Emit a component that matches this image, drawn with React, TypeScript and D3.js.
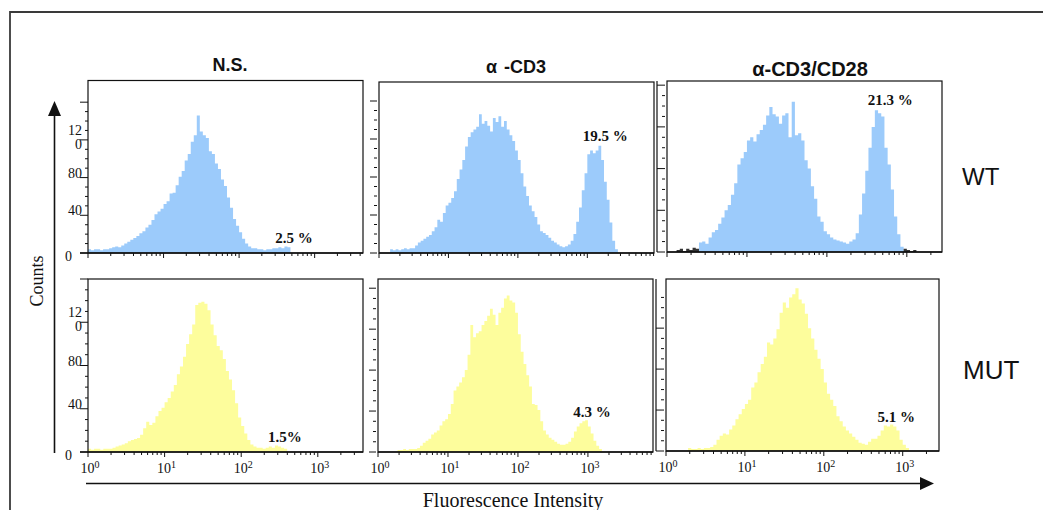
import * as d3 from 'd3';

// each histogram: counts per channel group of 0.04 log10 units, starting at *Start
const BIN = 0.04;

const wtNsStart = 0;
const wtNs = [4, 3, 4, 4, 3, 4, 4, 5, 6, 7, 6, 8, 10, 12, 14, 16, 18, 21, 23, 27, 30, 35, 41, 44, 47, 52, 55, 63, 64, 72, 81, 87, 98, 105, 118, 125, 146, 129, 125, 122, 108, 105, 95, 89, 78, 71, 59, 48, 36, 29, 22, 15, 10, 7, 5, 5, 4, 4, 3, 4, 4, 5, 5, 6, 5, 7, 6];

const wtCd3Start = 0.16;
const wtCd3 = [4, 3, 4, 3, 4, 5, 4, 5, 5, 8, 11, 13, 15, 17, 19, 23, 27, 35, 33, 42, 50, 53, 58, 65, 78, 88, 98, 112, 122, 127, 130, 133, 146, 136, 139, 134, 128, 142, 138, 144, 133, 139, 130, 124, 118, 108, 98, 84, 70, 60, 50, 44, 38, 30, 23, 21, 19, 16, 13, 11, 9, 7, 6, 7, 9, 13, 20, 33, 48, 66, 84, 104, 108, 105, 108, 113, 98, 75, 56, 32, 13, 4];

const wtCd28Start = 0.4;
const wtCd28 = [9, 10, 8, 14, 19, 21, 27, 33, 40, 45, 55, 66, 84, 90, 96, 107, 110, 106, 113, 117, 122, 131, 139, 132, 130, 123, 131, 133, 110, 144, 112, 114, 107, 88, 80, 63, 51, 34, 29, 20, 17, 14, 12, 11, 10, 9, 8, 10, 12, 18, 36, 56, 78, 100, 120, 136, 133, 130, 100, 84, 60, 34, 17, 5];
// dark debris events at both ends of the α-CD3/CD28 WT trace
const wtCd28DebrisLoStart = 0.12;
const wtCd28DebrisLo = [2, 3, 1, 3, 2, 4, 3];
const wtCd28DebrisHiStart = 2.96;
const wtCd28DebrisHi = [3, 2, 1, 2];

const mutNsStart = 0;
const mutNs = [3, 2, 3, 3, 2, 3, 3, 3, 4, 5, 6, 7, 8, 10, 11, 12, 13, 16, 22, 28, 25, 27, 33, 38, 41, 46, 50, 56, 62, 72, 79, 88, 100, 109, 118, 136, 138, 139, 137, 131, 118, 108, 98, 94, 86, 75, 67, 57, 45, 32, 24, 17, 11, 7, 5, 4, 4, 3, 4, 5, 4, 6, 5, 4, 3];

const mutCd3Start = 0.28;
const mutCd3 = [2, 2, 3, 2, 3, 3, 3, 4, 6, 9, 11, 13, 17, 19, 21, 26, 30, 32, 37, 47, 60, 64, 68, 73, 80, 95, 124, 112, 116, 118, 124, 128, 133, 140, 134, 124, 136, 141, 150, 153, 148, 146, 136, 115, 98, 86, 75, 64, 47, 46, 41, 30, 21, 17, 14, 12, 10, 8, 7, 7, 8, 10, 14, 20, 25, 28, 30, 31, 25, 18, 11, 6, 3];

const mutCd28Start = 0.28;
const mutCd28 = [3, 2, 2, 3, 2, 3, 3, 4, 6, 11, 15, 17, 16, 21, 25, 31, 36, 41, 46, 50, 62, 67, 77, 85, 92, 106, 104, 110, 119, 135, 145, 140, 150, 153, 159, 148, 144, 134, 120, 110, 99, 90, 80, 67, 56, 50, 44, 34, 29, 24, 20, 17, 14, 11, 8, 7, 6, 9, 12, 12, 15, 20, 25, 24, 26, 24, 20, 11, 6, 3];

const titles = ['N.S.', 'α', 'α-CD3/CD28'];
const rowLabels = ['WT', 'MUT'];
const pctLabels = ['2.5 %', '19.5 %', '21.3 %', '1.5%', '4.3 %', '5.1 %'];
const yTickLabels = [0, 40, 80, 120];
const xTickExponents = [0, 1, 2, 3];

const BLUE = '#9ccbfb';
const YELLOW = '#fdfd9c';
const SANS = '"Liberation Sans", Arial, sans-serif';
const SERIF = '"Liberation Serif", "Times New Roman", serif';

type Axis = 'left' | 'mid' | 'right';
interface Panel {
  counts: number[]; start: number; x: number; y: number; w: number; h: number;
  decades: number; yMax: number; tickMax: number; axis: Axis; color: string;
  pct: string; pctAt: [number, number]; xLabels: boolean;
}

const panels: Panel[] = [
  { counts: wtNs, start: wtNsStart, x: 88, y: 80.5, w: 275, h: 172.5, decades: 3.64, yMax: 183, tickMax: 160, axis: 'left', color: BLUE, pct: pctLabels[0], pctAt: [2.48, 10.6], xLabels: false },
  { counts: wtCd3, start: wtCd3Start, x: 379, y: 82, w: 275, h: 171, decades: 3.96, yMax: 180, tickMax: 160, axis: 'mid', color: BLUE, pct: pctLabels[1], pctAt: [2.935, 118], xLabels: false },
  { counts: wtCd28, start: wtCd28Start, x: 667, y: 81, w: 275, h: 171, decades: 3.44, yMax: 164, tickMax: 160, axis: 'right', color: BLUE, pct: pctLabels[2], pctAt: [2.51, 141], xLabels: false },
  { counts: mutNs, start: mutNsStart, x: 88, y: 279, w: 275, h: 173, decades: 3.59, yMax: 160, tickMax: 160, axis: 'left', color: YELLOW, pct: pctLabels[3], pctAt: [2.35, 9.2], xLabels: true },
  { counts: mutCd3, start: mutCd3Start, x: 378, y: 279, w: 275, h: 173, decades: 3.93, yMax: 169, tickMax: 160, axis: 'mid', color: YELLOW, pct: pctLabels[4], pctAt: [2.79, 33.9], xLabels: true },
  { counts: mutCd28, start: mutCd28Start, x: 666, y: 279, w: 273, h: 172, decades: 3.46, yMax: 168, tickMax: 150, axis: 'right', color: YELLOW, pct: pctLabels[5], pctAt: [2.68, 28.3], xLabels: true },
];

function stepPath(counts: number[], start: number, x: d3.ScaleLogarithmic<number, number>, y: d3.ScaleLinear<number, number>) {
  const pts: [number, number][] = counts.map((c, i) => [Math.pow(10, start + i * BIN), c]);
  pts.push([Math.pow(10, start + counts.length * BIN), counts[counts.length - 1]]);
  const area = d3.area<[number, number]>()
    .x(d => x(d[0]))
    .y0(y(0))
    .y1(d => y(d[1]))
    .curve(d3.curveStepAfter);
  return area(pts) || '';
}

function HistPanel({ p, debris }: { p: Panel; debris?: { start: number; counts: number[] }[] }) {
  const x = d3.scaleLog().domain([1, Math.pow(10, p.decades)]).range([p.x, p.x + p.w]);
  const y = d3.scaleLinear().domain([0, p.yMax]).range([p.y + p.h, p.y]);
  const bottom = p.y + p.h;

  const xTicks: { v: number; major: boolean }[] = [];
  for (let d = 0; d <= Math.ceil(p.decades); d++) {
    for (let m = 1; m <= 9; m++) {
      const v = m * Math.pow(10, d);
      if (Math.log10(v) <= p.decades + 1e-6) xTicks.push({ v, major: m === 1 });
    }
  }
  const yTicks = d3.range(0, p.tickMax + 1, 10);

  return (
    <g>
      <path d={stepPath(p.counts, p.start, x, y)} fill={p.color} />
      {debris && debris.map((s, k) => (
        <path key={k} d={stepPath(s.counts, s.start, x, y)} fill="#333" />
      ))}
      <rect x={p.x} y={p.y} width={p.w} height={p.h} fill="none" stroke="#111" strokeWidth={1.2} />
      {/* x axis */}
      <line x1={p.axis === 'left' ? p.x - 8 : p.x} x2={p.x + p.w} y1={bottom} y2={bottom} stroke="#111" strokeWidth={1.4} />
      {xTicks.map((t, i) => (
        <line key={i} x1={x(t.v)} x2={x(t.v)} y1={bottom} y2={bottom + (t.major ? 5 : 3)} stroke="#111" strokeWidth={1} />
      ))}
      {p.xLabels && xTickExponents.map(e => (
        <text key={e} x={x(Math.pow(10, e)) + 2} y={bottom + 21} textAnchor="middle" fontFamily={SERIF} fontSize={14} fill="#111">
          10<tspan dy={-5} fontSize={10}>{e}</tspan>
        </text>
      ))}
      {/* y axis ticks */}
      {p.axis === 'right' && (
        <line x1={p.x - 10} x2={p.x - 10} y1={p.y} y2={bottom} stroke="#111" strokeWidth={1.2} />
      )}
      {yTicks.map(v => {
        const major = v % 40 === 0;
        const yy = y(v);
        if (p.axis === 'left') {
          return <line key={v} x1={p.x - (major ? 8 : 3)} x2={p.x} y1={yy} y2={yy} stroke="#111" strokeWidth={1} />;
        }
        if (p.axis === 'mid') {
          return <line key={v} x1={p.x - 2 - (major ? 7 : 3)} x2={p.x - 2} y1={yy} y2={yy} stroke="#111" strokeWidth={1} />;
        }
        return <line key={v} x1={major ? p.x - 10 : p.x - 5} x2={p.x - 2} y1={yy} y2={yy} stroke="#111" strokeWidth={1} />;
      })}
      {p.axis === 'left' && yTickLabels.map(v => {
        const yy = y(v);
        const s = String(v);
        if (v === 0) {
          return <text key={v} x={p.x - 16} y={yy + 8} textAnchor="end" fontFamily={SERIF} fontSize={14} fill="#111">{s}</text>;
        }
        if (s.length > 2) {
          return (
            <g key={v}>
              <text x={p.x - 6} y={yy - 5} textAnchor="end" fontFamily={SERIF} fontSize={14} fill="#111">{s.slice(0, 2)}</text>
              <text x={p.x - 13} y={yy + 9} textAnchor="start" fontFamily={SERIF} fontSize={14} fill="#111">{s.slice(2)}</text>
            </g>
          );
        }
        return <text key={v} x={p.x - 6} y={yy} textAnchor="end" fontFamily={SERIF} fontSize={14} fill="#111">{s}</text>;
      })}
      <text x={x(Math.pow(10, p.pctAt[0]))} y={y(p.pctAt[1])} fontFamily={SERIF} fontWeight="bold" fontSize={15} fill="#111">{p.pct}</text>
    </g>
  );
}

export default function App() {
  const W = 1043, H = 510;
  return (
    <svg width={W} height={H} style={{ position: 'absolute', left: 0, top: 0, background: '#fff' }}>
      <rect width={W} height={H} fill="#fff" />
      <path d={`M10,${H} V12 H${W}`} fill="none" stroke="#3a3a3a" strokeWidth={1.8} />

      {/* column titles */}
      <text x={230} y={71} textAnchor="middle" fontFamily={SANS} fontWeight="bold" fontSize={18} fill="#111">{titles[0]}</text>
      <text x={516} y={73} textAnchor="middle" fontFamily={SANS} fontWeight="bold" fontSize={18} fill="#111">
        {titles[1]}<tspan dx={7}>-CD3</tspan>
      </text>
      <text x={810} y={76} textAnchor="middle" fontFamily={SANS} fontWeight="bold" fontSize={20} fill="#111">{titles[2]}</text>

      {panels.map((p, i) => (
        <HistPanel key={i} p={p} debris={i === 2 ? [
          { start: wtCd28DebrisLoStart, counts: wtCd28DebrisLo },
          { start: wtCd28DebrisHiStart, counts: wtCd28DebrisHi },
        ] : undefined} />
      ))}

      {/* row labels */}
      <text x={962} y={185} fontFamily={SANS} fontSize={24} fill="#111">{rowLabels[0]}</text>
      <text x={963} y={379} fontFamily={SANS} fontSize={26} fill="#111">{rowLabels[1]}</text>

      {/* Counts arrow */}
      <line x1={54.5} x2={54.5} y1={114} y2={453} stroke="#111" strokeWidth={1.6} />
      <polygon points="48,116 61,116 54.5,101" fill="#111" />
      <text transform="translate(43,281) rotate(-90)" textAnchor="middle" fontFamily={SERIF} fontSize={18} fill="#111">Counts</text>

      {/* Fluorescence arrow */}
      <line x1={86} x2={922} y1={483.5} y2={483.5} stroke="#111" strokeWidth={1.6} />
      <polygon points="920,477 920,490 934,483.5" fill="#111" />
      <text x={513} y={507} textAnchor="middle" fontFamily={SERIF} fontSize={20} fill="#111">Fluorescence Intensity</text>
    </svg>
  );
}
